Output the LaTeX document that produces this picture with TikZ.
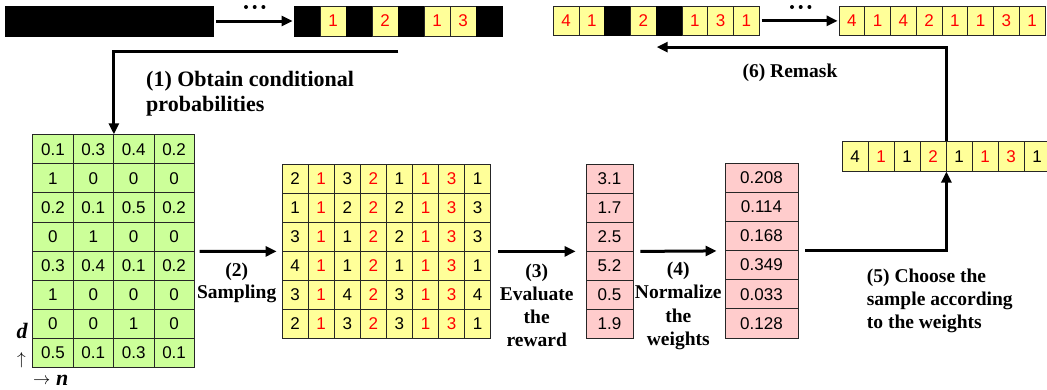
\documentclass[tikz,border=0pt]{standalone}
\usepackage{fontspec}
\setmainfont{Liberation Serif}
\setsansfont{Liberation Sans}
\usetikzlibrary{arrows.meta}
\definecolor{cgreen}{HTML}{CCFF99}
\definecolor{cyellow}{HTML}{FFFF99}
\definecolor{cpink}{HTML}{FFCCCC}
\definecolor{cred}{HTML}{FF0000}
\newcommand\mystrip[6]{%
  \foreach \v [count=\c] in {#6} {%
    \if x\v
      \node[cellbase, fill=black, draw=black, minimum width=#4pt, minimum height=#5pt] (#1-\c) at ({#2+(\c-0.5)*#4},{#3+#5/2}) {};
    \else
      \node[cellbase, fill=cyellow, minimum width=#4pt, minimum height=#5pt, text=cred] (#1-\c) at ({#2+(\c-0.5)*#4},{#3+#5/2}) {\v};
    \fi
  }%
}
\begin{document}
\begin{tikzpicture}[x=1pt,y=-1pt,
  cellbase/.style={draw=black!85, line width=0.8pt, inner sep=0pt, anchor=center,
    font=\sffamily\fontsize{17}{17}\selectfont},
  gcell/.style={cellbase, fill=cgreen, minimum width=40.4pt, minimum height=29.08pt},
  ycell/.style={cellbase, fill=cyellow, minimum width=26.09pt, minimum height=29pt},
  pacell/.style={cellbase, fill=cpink, minimum width=47pt, minimum height=29pt},
  pbcell/.style={cellbase, fill=cpink, minimum width=73pt, minimum height=29.17pt},
  scell/.style={cellbase, fill=cyellow, minimum width=26pt, minimum height=29.3pt},
  conn/.style={line width=3pt, -{Triangle[length=11pt,width=10pt]}},
  lab/.style={font=\bfseries\fontsize{19.5}{23}\selectfont, inner sep=0pt, anchor=base},
  labbig/.style={font=\bfseries\fontsize{22}{25}\selectfont, inner sep=0pt, anchor=base west},
  dotmark/.style={fill=black}]
\useasboundingbox (0,0) rectangle (1047,389);
\clip (0,0) rectangle (1047,389);
% top strips
\mystrip{L1}{5}{6}{26}{30}{x,x,x,x,x,x,x,x}
\mystrip{L2}{294}{6}{26}{30}{x,1,x,2,x,1,3,x}
\mystrip{R1}{553.3}{6}{25.75}{29.7}{4,1,x,2,x,1,3,1}
\mystrip{R2}{839}{6}{25.75}{29.7}{4,1,4,2,1,1,3,1}
% ellipsis dots
\foreach \dx in {-8.7,0,8.7} {
  \fill[dotmark] ({254.7+\dx},7) circle (2pt);
  \fill[dotmark] ({800.7+\dx},7) circle (2pt);
}
% green matrix
\foreach \row [count=\r] in {{0.1,0.3,0.4,0.2},{1,0,0,0},{0.2,0.1,0.5,0.2},{0,1,0,0},{0.3,0.4,0.1,0.2},{1,0,0,0},{0,0,1,0},{0.5,0.1,0.3,0.1}} {
  \foreach \v [count=\c] in \row {
    \node[gcell] (g\r-\c) at ({32.7+(\c-0.5)*40.4},{134.7+(\r-0.5)*29.08}) {\v};
  }
}
% yellow matrix
\foreach \row [count=\r] in {{2,1,3,2,1,1,3,1},{1,1,2,2,2,1,3,3},{3,1,1,2,2,1,3,3},{4,1,1,2,1,1,3,1},{3,1,4,2,3,1,3,4},{2,1,3,2,3,1,3,1}} {
  \foreach \v [count=\c] in \row {
    \pgfmathtruncatemacro\isred{(\c==2)||(\c==4)||(\c==6)||(\c==7)}
    \node[ycell] (y\r-\c) at ({282+(\c-0.5)*26.09},{164+(\r-0.5)*29}) {\ifnum\isred=1 \color{cred}\fi\v};
  }
}
% pink columns
\foreach \v [count=\r] in {3.1,1.7,2.5,5.2,0.5,1.9} {
  \node[pacell] (pa\r) at (609.5,{164+(\r-0.5)*29}) {\v};
}
\foreach \v [count=\r] in {0.208,0.114,0.168,0.349,0.033,0.128} {
  \node[pbcell] (pb\r) at (761.5,{163+(\r-0.5)*29.17}) {\v};
}
% chosen sample
\foreach \v [count=\c] in {4,1,1,2,1,1,3,1} {
  \pgfmathtruncatemacro\isred{(\c==2)||(\c==4)||(\c==6)||(\c==7)}
  \node[scell] (S-\c) at ({842+(\c-0.5)*26},156.5) {\ifnum\isred=1 \color{cred}\fi\v};
}
% connectors
\draw[conn] ([xshift=3pt]L1-8.east) -- ([xshift=-1pt]L2-1.west);
\draw[conn] ([xshift=2pt]R1-8.east) -- ([xshift=-1pt]R2-1.west);
\coordinate (c1) at ([yshift=-15pt]L2-4.south east);
\draw[conn] (c1) -| (g1-2.north east);
\draw[conn] ([xshift=5pt]g4-4.south east) -- ([xshift=-5pt]y3-1.south west);
\draw[conn] ([xshift=7pt]y3-8.south east) -- ([xshift=-10pt]pa3.south west);
\draw[conn] ([xshift=7pt]pa3.south east) -- ([xshift=-8pt]pb3.south west);
\draw[conn] ([xshift=7pt]pb3.south east) -| (S-4.south east);
\coordinate (rm) at ([yshift=-11pt]R1-4.south east);
\draw[conn] (S-4.north east) |- (rm);
% labels
\node[labbig] (t1a) at (146,86) {(1) Obtain conditional};
\node[labbig] (t1b) at (146,111) {probabilities};
\node[lab] (t2a) at (236.7,276) {(2)};
\node[lab] (t2b) at (236.7,298.6) {Sampling};
\node[lab] (t3a) at (536.7,277) {(3)};
\node[lab] (t3b) at (536.7,300) {Evaluate};
\node[lab] (t3c) at (536.7,323) {the};
\node[lab] (t3d) at (536.7,346) {reward};
\node[lab] (t4a) at (678.3,275) {(4)};
\node[lab] (t4b) at (678.3,298) {Normalize};
\node[lab] (t4c) at (678.3,322) {the};
\node[lab] (t4d) at (678.3,345) {weights};
\node[lab, anchor=base west] (t5a) at (866.7,282) {(5) Choose the};
\node[lab, anchor=base west] (t5b) at (866.7,305) {sample according};
\node[lab, anchor=base west] (t5c) at (866.7,328) {to the weights};
\node[lab] (t6) at (790,77) {(6) Remask};
% axis labels
\node[inner sep=0pt, anchor=base, font=\bfseries\itshape\fontsize{22}{22}\selectfont] (dl) at (22,338) {d};
\node[inner sep=0pt, anchor=base, font=\fontsize{19}{19}\selectfont] (ua) at (21.5,364) {$\uparrow$};
\node[inner sep=0pt, anchor=base west, font=\fontsize{17}{17}\selectfont] (ra) at (33,384) {$\rightarrow$};
\node[inner sep=0pt, anchor=base west, font=\bfseries\itshape\fontsize{22}{22}\selectfont] (nl) at (56,385) {n};
\end{tikzpicture}
\end{document}
